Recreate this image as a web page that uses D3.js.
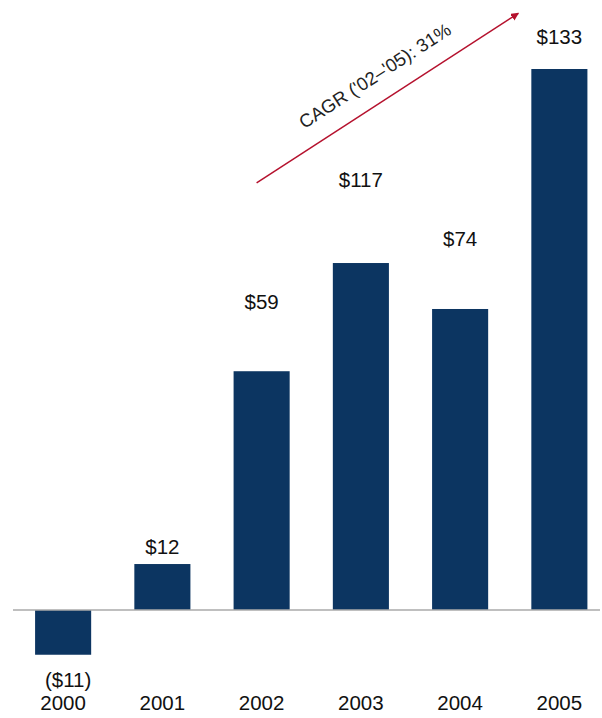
<!DOCTYPE html>
<html>
<head>
<meta charset="utf-8">
<script src="https://cdn.jsdelivr.net/npm/d3@7"></script>
<style>
  body { margin: 0; background: #fff; }
  text { font-family: "Liberation Sans", Arial, sans-serif; fill: #111; }
</style>
</head>
<body>
<div id="chart"></div>
<script>
// years on the x axis
const years = ["2000", "2001", "2002", "2003", "2004", "2005"];
// bar heights as drawn (the 2003 bar is drawn shorter than its label)
const barValues = [-11, 11.3, 58.7, 85.3, 74, 133];
// value labels
const valueLabels = ["($11)", "$12", "$59", "$117", "$74", "$133"];
// level (in value units) where each label sits
const labelLevels = [-17.2, 15.5, 75.7, 105.7, 91.4, 141];
// CAGR annotation
const cagrText = "CAGR ('02\u2013'05): 31%";
const arrowFrom = { year: "2002", value: 105 };
const arrowTo = { year: "2005", value: 146.7 };

const width = 602, height = 718;

const svg = d3
  .select("#chart")
  .append("svg")
  .attr("width", width)
  .attr("height", height);

const x = d3.scaleBand()
  .domain(years)
  .range([13.5, 609])
  .paddingInner(0.435)
  .paddingOuter(0.2175);

const y = d3.scaleLinear()
  .domain([0, 133])
  .range([610, 69]);

// bars
svg.append("g")
  .selectAll("rect")
  .data(years)
  .join("rect")
  .attr("x", d => x(d))
  .attr("width", x.bandwidth())
  .attr("y", (d, i) => Math.min(y(barValues[i]), y(0)))
  .attr("height", (d, i) => Math.abs(y(barValues[i]) - y(0)))
  .style("fill", "#0c3561");

// zero line
svg.append("line")
  .attr("x1", 13)
  .attr("x2", 600)
  .attr("y1", y(0))
  .attr("y2", y(0))
  .style("stroke", "#aaaaaa")
  .attr("stroke-width", 1.5);

// value labels
svg.append("g")
  .selectAll("text")
  .data(years)
  .join("text")
  .attr("x", (d, i) => x(d) + x.bandwidth() / 2 + (barValues[i] < 0 ? 5 : 0))
  .attr("y", (d, i) => y(labelLevels[i]))
  .attr("dy", "0.36em")
  .style("text-anchor", "middle")
  .style("font-size", "20.5px")
  .text((d, i) => valueLabels[i]);

// year labels
svg.append("g")
  .selectAll("text")
  .data(years)
  .join("text")
  .attr("x", d => x(d) + x.bandwidth() / 2)
  .attr("y", 703)
  .attr("dy", "0.36em")
  .style("text-anchor", "middle")
  .style("font-size", "20.5px")
  .text(d => d);

// CAGR arrow
svg.append("defs")
  .append("marker")
  .attr("id", "arrowhead")
  .attr("viewBox", "0 0 10 10")
  .attr("refX", 9)
  .attr("refY", 5)
  .attr("markerWidth", 8)
  .attr("markerHeight", 8)
  .attr("markerUnits", "userSpaceOnUse")
  .attr("orient", "auto")
  .append("path")
  .attr("d", "M0,0L10,5L0,10Z")
  .style("fill", "#b5122e");

const ax1 = x(arrowFrom.year) + x.bandwidth() / 2 - 5,
  ay1 = y(arrowFrom.value),
  ax2 = x(arrowTo.year) - 13,
  ay2 = y(arrowTo.value);

svg.append("line")
  .attr("x1", ax1)
  .attr("y1", ay1)
  .attr("x2", ax2)
  .attr("y2", ay2)
  .style("stroke", "#b5122e")
  .attr("stroke-width", 1.5)
  .attr("marker-end", "url(#arrowhead)");

const angle = Math.atan2(ay2 - ay1, ax2 - ax1) * 180 / Math.PI;
const mx = (ax1 + ax2) / 2 - 4, my = (ay1 + ay2) / 2;

svg.append("text")
  .attr("transform", `translate(${mx},${my}) rotate(${angle}) translate(5,-17)`)
  .style("text-anchor", "middle")
  .style("font-size", "18.5px")
  .style("fill", "#222")
  .text(cagrText);
</script>
</body>
</html>
